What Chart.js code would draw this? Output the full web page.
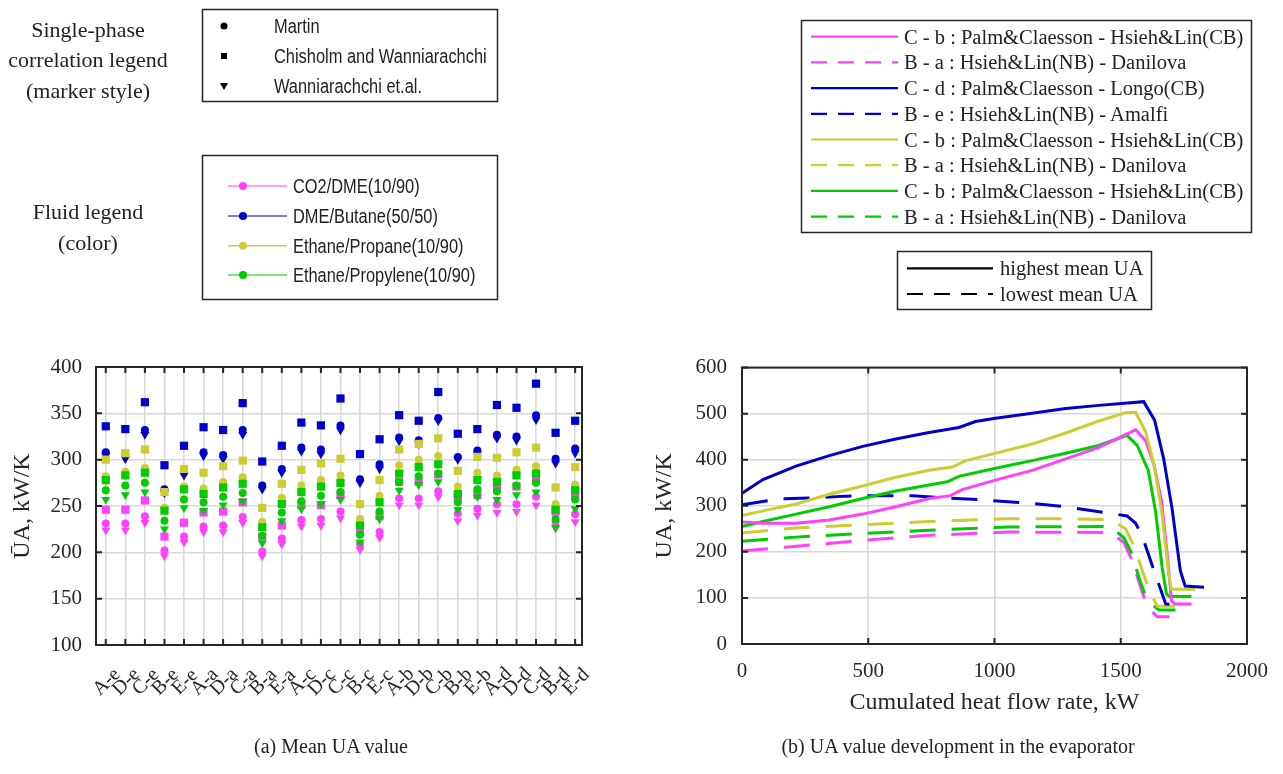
<!DOCTYPE html>
<html>
<head>
<meta charset="utf-8">
<script src="https://cdn.jsdelivr.net/npm/chart.js@4.4.1/dist/chart.umd.min.js"></script>
<style>
  body { margin: 0; background: #fff; }
  #wrap { position: relative; width: 1283px; height: 774px; overflow: hidden;
          font-family: 'Liberation Serif', 'Times New Roman', serif; color: #222; }
  canvas { position: absolute; }
  #overlay { position: absolute; left: 0; top: 0; pointer-events: none; }
  .t { position: absolute; white-space: nowrap; height: 26px; line-height: 26px; }
  .sans { font-family: 'Liberation Sans', Arial, sans-serif; font-size: 20px;
          transform: scaleX(0.82); transform-origin: 0 50%; }
  .serif { font-size: 20.5px; }
  .head { position: absolute; left: 0; width: 176px; text-align: center; font-size: 22px; line-height: 30.8px; }
  .cap { position: absolute; top: 735px; font-size: 20px; text-align: center; width: 600px; }
</style>
</head>
<body>
<div id="wrap">
  <canvas id="left" width="600" height="434" style="left:0;top:340px"></canvas>
  <canvas id="right" width="663" height="434" style="left:620px;top:340px"></canvas>
  <svg id="overlay" width="1283" height="774"></svg>
  <div class="head" style="top:14.6px">Single-phase<br>correlation legend<br>(marker style)</div>
  <div class="head" style="top:197.4px">Fluid legend<br>(color)</div>
  <div class="cap" style="left:31px">(a) Mean UA value</div>
  <div class="cap" style="left:658px">(b) UA value development in the evaporator</div>
</div>
<script>
// ---- (a) mean UA per configuration ----
const categories = ['A-e','D-e','C-e','B-e','E-e','A-a','D-a','C-a','B-a','E-a','A-c','D-c','C-c',
                    'B-c','E-c','A-b','D-b','C-b','B-b','E-b','A-d','D-d','C-d','B-d','E-d'];

// CO2/DME(10/90)
const magMartin   = [231,231,239,202,217,228,229,238,201,215,235,236,244,209,222,258,258,266,242,247,252,252,260,233,241];
const magChisholm = [246,246,256,217,232,243,244,254,217,229,251,251,262,224,239,276,276,284,260,262,270,271,278,244,260];
const magWanni    = [224,224,232,196,211,222,222,232,196,209,228,229,237,203,216,251,251,260,234,240,243,244,251,226,233];
// DME/Butane(50/50)
const bluMartin   = [308,305,332,268,287,308,305,332,272,290,313,311,337,279,295,324,321,345,303,310,327,325,348,301,312];
const bluChisholm = [336,333,362,294,315,335,332,361,298,315,340,337,366,306,322,348,342,373,328,333,359,356,382,329,342];
const bluWanni    = [304,301,327,264,283,304,301,327,268,286,309,306,332,275,290,320,317,342,300,306,323,321,343,296,307];
// Ethane/Propane(10/90)
const yelMartin   = [282,287,291,248,271,269,276,281,233,259,272,278,283,236,261,294,300,304,271,286,283,289,293,252,273];
const yelChisholm = [300,307,311,265,290,286,293,299,248,274,289,296,301,252,278,311,317,323,288,303,302,308,313,270,292];
const yelWanni    = [277,283,286,245,268,263,270,274,227,252,265,271,275,229,254,285,292,295,263,278,276,283,285,246,267];
// Ethane/Propylene(10/90)
const grnMartin   = [267,272,275,234,257,254,260,264,218,243,255,261,265,219,244,276,282,285,254,268,266,272,275,236,257];
const grnChisholm = [278,283,286,245,268,263,270,274,227,252,265,271,275,229,254,285,292,295,263,278,276,283,285,246,267];
const grnWanni    = [257,262,265,225,248,245,251,255,210,234,247,252,257,211,236,267,273,276,246,260,257,262,265,227,247];

const yTicksA = [100, 150, 200, 250, 300, 350, 400];

// ---- (b) UA development (x: cumulated heat flow rate kW, y: UA kW/K) ----
const magSolidX = [0,83,214,346,478,609,741,826,872,1018,1149,1282,1413,1559,1599,1632,1662,1684,1701,1714,1780];
const magSolidY = [265,262,262,269,282,298,316,322,335,358,377,402,427,465,441,388,309,195,94,87,87];
const magDashX  = [0,214,478,741,1057,1460,1513,1546,1579,1605,1645,1693];
const magDashY  = [202,212,225,236,243,242,220,180,123,80,59,59];
const bluSolidX = [0,83,214,346,478,609,741,859,925,1004,1149,1282,1413,1591,1634,1670,1703,1736,1755,1830];
const bluSolidY = [327,357,386,409,429,445,459,470,483,490,501,511,518,526,486,402,295,159,126,123];
const bluDashX  = [0,149,280,412,543,675,807,951,1149,1282,1453,1525,1559,1585,1632,1678,1730];
const bluDashY  = [302,315,317,321,322,322,317,313,305,298,284,278,262,234,159,87,84];
const yelSolidX = [0,83,214,346,478,609,741,833,886,1018,1149,1282,1413,1519,1559,1599,1634,1664,1690,1700,1795];
const yelSolidY = [279,289,304,325,343,362,377,384,398,416,434,458,484,502,503,460,384,280,152,119,119];
const yelDashX  = [0,214,478,741,1057,1282,1460,1519,1553,1586,1612,1645,1730];
const yelDashY  = [241,252,259,266,272,272,270,250,212,159,116,82,82];
const grnSolidX = [0,83,214,346,478,609,741,813,859,1018,1149,1282,1413,1525,1565,1609,1638,1664,1681,1693,1780];
const grnSolidY = [255,266,282,298,316,332,345,352,364,383,398,414,431,453,431,377,287,166,109,103,103];
const grnDashX  = [0,214,478,741,1057,1460,1513,1546,1572,1605,1651,1717];
const grnDashY  = [223,232,240,247,254,255,230,194,144,94,74,74];

const lineLabels = ['C - b : Palm&Claesson - Hsieh&Lin(CB)', 'B - a : Hsieh&Lin(NB) - Danilova',
                    'C - d : Palm&Claesson - Longo(CB)', 'B - e : Hsieh&Lin(NB) - Amalfi',
                    'C - b : Palm&Claesson - Hsieh&Lin(CB)', 'B - a : Hsieh&Lin(NB) - Danilova',
                    'C - b : Palm&Claesson - Hsieh&Lin(CB)', 'B - a : Hsieh&Lin(NB) - Danilova'];
const fluidNames = ['CO2/DME(10/90)', 'DME/Butane(50/50)', 'Ethane/Propane(10/90)', 'Ethane/Propylene(10/90)'];
const correlationNames = ['Martin', 'Chisholm and Wanniarachchi', 'Wanniarachchi et.al.'];

const MAG = '#ff40ff', BLU = '#0000cc', YEL = '#cccc33', GRN = '#00cc00';
const INK = '#262626';
const SERIF = "'Liberation Serif', 'Times New Roman', serif";

const xy = (xs, ys) => xs.map((x, i) => ({ x: x, y: ys[i] }));
const catPts = arr => arr.map((v, i) => ({ x: i + 1, y: v }));

// frame with inward ticks, like the original axes box
const framePlugin = {
  id: 'frame',
  afterDatasetsDraw(chart) {
    const { ctx, chartArea: a, scales } = chart;
    ctx.save();
    ctx.strokeStyle = INK;
    ctx.lineWidth = 2;
    ctx.beginPath();
    scales.x.ticks.forEach(t => {
      const px = scales.x.getPixelForValue(t.value);
      ctx.moveTo(px, a.bottom); ctx.lineTo(px, a.bottom - 6);
      ctx.moveTo(px, a.top); ctx.lineTo(px, a.top + 6);
    });
    scales.y.ticks.forEach(t => {
      const py = scales.y.getPixelForValue(t.value);
      ctx.moveTo(a.left, py); ctx.lineTo(a.left + 6, py);
      ctx.moveTo(a.right, py); ctx.lineTo(a.right - 6, py);
    });
    ctx.stroke();
    ctx.strokeRect(a.left, a.top, a.right - a.left, a.bottom - a.top);
    ctx.restore();
  }
};

// rotated category labels centred on each tick
const catLabelPlugin = {
  id: 'catLabels',
  afterDraw(chart) {
    const { ctx, scales } = chart;
    ctx.save();
    ctx.fillStyle = INK;
    ctx.font = '20px ' + SERIF;
    ctx.textAlign = 'center';
    ctx.textBaseline = 'middle';
    categories.forEach((c, i) => {
      const px = scales.x.getPixelForValue(i + 1);
      ctx.save();
      ctx.translate(px + 1, 342);
      ctx.rotate(-Math.PI / 4);
      ctx.fillText(c, 0, 0);
      ctx.restore();
    });
    ctx.restore();
  }
};

function markerSet(name, color, martin, chisholm, wanni) {
  return [
    { label: name + ' Chisholm', data: catPts(chisholm), pointStyle: 'rect', pointRadius: 5.8,
      backgroundColor: color, borderColor: color, borderWidth: 0 },
    { label: name + ' Martin', data: catPts(martin), pointStyle: 'circle', pointRadius: 4,
      backgroundColor: color, borderColor: color, borderWidth: 0 },
    { label: name + ' Wanniarachchi', data: catPts(wanni), pointStyle: 'triangle', pointRadius: 5.2,
      rotation: 180, backgroundColor: color, borderColor: color, borderWidth: 0 }
  ];
}

// first dataset is painted last, so green sits on top
const leftSets = [].concat(
  markerSet(fluidNames[3], GRN, grnMartin, grnChisholm, grnWanni),
  markerSet(fluidNames[2], YEL, yelMartin, yelChisholm, yelWanni),
  markerSet(fluidNames[1], BLU, bluMartin, bluChisholm, bluWanni),
  markerSet(fluidNames[0], MAG, magMartin, magChisholm, magWanni)
);

new Chart(document.getElementById('left'), {
  type: 'scatter',
  data: { datasets: leftSets },
  options: {
    responsive: false,
    animation: false,
    layout: { padding: { top: 27, right: 18, left: 0, bottom: 0 } },
    plugins: { legend: { display: false }, tooltip: { enabled: false } },
    scales: {
      x: {
        type: 'linear', min: 0.5, max: 25.35,
        ticks: { stepSize: 1, includeBounds: false, display: false },
        grid: { color: '#d9d9d9', lineWidth: 1.6, drawTicks: false },
        border: { display: false },
        afterFit: s => { s.height = 129; }
      },
      y: {
        min: yTicksA[0], max: yTicksA[yTicksA.length - 1],
        afterBuildTicks: s => { s.ticks = yTicksA.map(v => ({ value: v })); },
        ticks: { font: { family: SERIF, size: 21 }, color: INK, padding: 14 },
        grid: { color: '#d9d9d9', lineWidth: 1.6, drawTicks: false },
        border: { display: false },
        title: { display: true, text: 'ŪA, kW/K', font: { family: SERIF, size: 24 }, color: INK,
                 padding: { top: 8.6, bottom: 0 } },
        afterFit: s => { s.width = 96; }
      }
    }
  },
  plugins: [framePlugin, catLabelPlugin]
});

function lineSet(label, color, xs, ys, dashed) {
  return { label: label, data: xy(xs, ys), showLine: true, borderColor: color, backgroundColor: color,
           borderWidth: 3, pointRadius: 0, tension: 0, borderDash: dashed ? [26, 16] : [] };
}

new Chart(document.getElementById('right'), {
  type: 'scatter',
  data: {
    datasets: [
      lineSet(lineLabels[2], BLU, bluSolidX, bluSolidY, false),
      lineSet(lineLabels[4], YEL, yelSolidX, yelSolidY, false),
      lineSet(lineLabels[0], MAG, magSolidX, magSolidY, false),
      lineSet(lineLabels[6], GRN, grnSolidX, grnSolidY, false),
      lineSet(lineLabels[3], BLU, bluDashX, bluDashY, true),
      lineSet(lineLabels[5], YEL, yelDashX, yelDashY, true),
      lineSet(lineLabels[7], GRN, grnDashX, grnDashY, true),
      lineSet(lineLabels[1], MAG, magDashX, magDashY, true)
    ]
  },
  options: {
    responsive: false,
    animation: false,
    layout: { padding: { top: 24, right: 35, left: 0, bottom: 0 } },
    plugins: { legend: { display: false }, tooltip: { enabled: false } },
    scales: {
      x: {
        type: 'linear', min: 0, max: 2000,
        ticks: { stepSize: 500, font: { family: SERIF, size: 21 }, color: INK, padding: 15,
                 callback: v => String(v) },
        grid: { color: '#d9d9d9', lineWidth: 1.6, drawTicks: false },
        border: { display: false },
        title: { display: true, text: 'Cumulated heat flow rate, kW', font: { family: SERIF, size: 24 },
                 color: INK, padding: { top: 0, bottom: 56.6 } },
        afterFit: s => { s.height = 130; }
      },
      y: {
        min: 0, max: 600,
        ticks: { stepSize: 100, font: { family: SERIF, size: 21 }, color: INK, padding: 15,
                 callback: v => String(v) },
        grid: { color: '#d9d9d9', lineWidth: 1.6, drawTicks: false },
        border: { display: false },
        title: { display: true, text: 'UA, kW/K', font: { family: SERIF, size: 24 }, color: INK,
                 padding: { top: 30.6, bottom: 0 } },
        afterFit: s => { s.width = 122; }
      }
    }
  },
  plugins: [framePlugin]
});

// ---- legends (html text + svg symbols) ----
const NS = 'http://www.w3.org/2000/svg';
const svg = document.getElementById('overlay');
const wrap = document.getElementById('wrap');
function sv(tag, attrs) {
  const e = document.createElementNS(NS, tag);
  for (const k in attrs) e.setAttribute(k, attrs[k]);
  svg.appendChild(e);
  return e;
}
function txt(str, x, y, cls) {
  const d = document.createElement('div');
  d.className = 't ' + cls;
  d.textContent = str;
  d.style.left = x + 'px';
  d.style.top = (y - 13) + 'px';
  wrap.appendChild(d);
}

// marker-style legend
sv('rect', { x: 202.5, y: 9.5, width: 295, height: 92, fill: 'none', stroke: INK, 'stroke-width': 1.5 });
const markRows = [26, 56, 86];
sv('circle', { cx: 224, cy: markRows[0], r: 3.5, fill: '#000' });
sv('rect', { x: 221, y: markRows[1] - 3, width: 6, height: 6, fill: '#000' });
sv('polygon', { points: '220,' + (markRows[2] - 3) + ' 228,' + (markRows[2] - 3) + ' 224,' + (markRows[2] + 4), fill: '#000' });
correlationNames.forEach((n, i) => txt(n, 274, markRows[i], 'sans'));

// fluid legend
sv('rect', { x: 202.5, y: 155.5, width: 295, height: 144, fill: 'none', stroke: INK, 'stroke-width': 1.5 });
const fluidRows = [186, 216, 245.7, 275];
const fluidLine = ['#ff80ff', '#5050e0', '#cccc55', '#50dd50'];
const fluidDot = [MAG, BLU, YEL, GRN];
fluidNames.forEach((n, i) => {
  sv('line', { x1: 228, x2: 287, y1: fluidRows[i], y2: fluidRows[i], stroke: fluidLine[i], 'stroke-width': 1.6 });
  sv('circle', { cx: 243, cy: fluidRows[i], r: 4, fill: fluidDot[i] });
  txt(n, 293, fluidRows[i], 'sans');
});

// line legend of (b)
sv('rect', { x: 801.5, y: 20.5, width: 450, height: 212, fill: 'none', stroke: INK, 'stroke-width': 1.5 });
const lineCols = [MAG, MAG, BLU, BLU, YEL, YEL, GRN, GRN];
lineLabels.forEach((n, i) => {
  const y = 36.7 + i * 25.7;
  const a = { x1: 811, x2: 898, y1: y, y2: y, stroke: lineCols[i], 'stroke-width': 2.2 };
  if (i % 2 === 1) a['stroke-dasharray'] = '16 11';
  sv('line', a);
  txt(n, 904, y, 'serif');
});

// highest / lowest legend
sv('rect', { x: 897.5, y: 251.5, width: 254, height: 58, fill: 'none', stroke: INK, 'stroke-width': 1.5 });
[['highest mean UA', 268.3, false], ['lowest mean UA', 294, true]].forEach(r => {
  const a = { x1: 907, x2: 993, y1: r[1], y2: r[1], stroke: '#000', 'stroke-width': 2.2 };
  if (r[2]) a['stroke-dasharray'] = '16 11';
  sv('line', a);
  txt(r[0], 1000, r[1], 'serif');
});
</script>
</body>
</html>
